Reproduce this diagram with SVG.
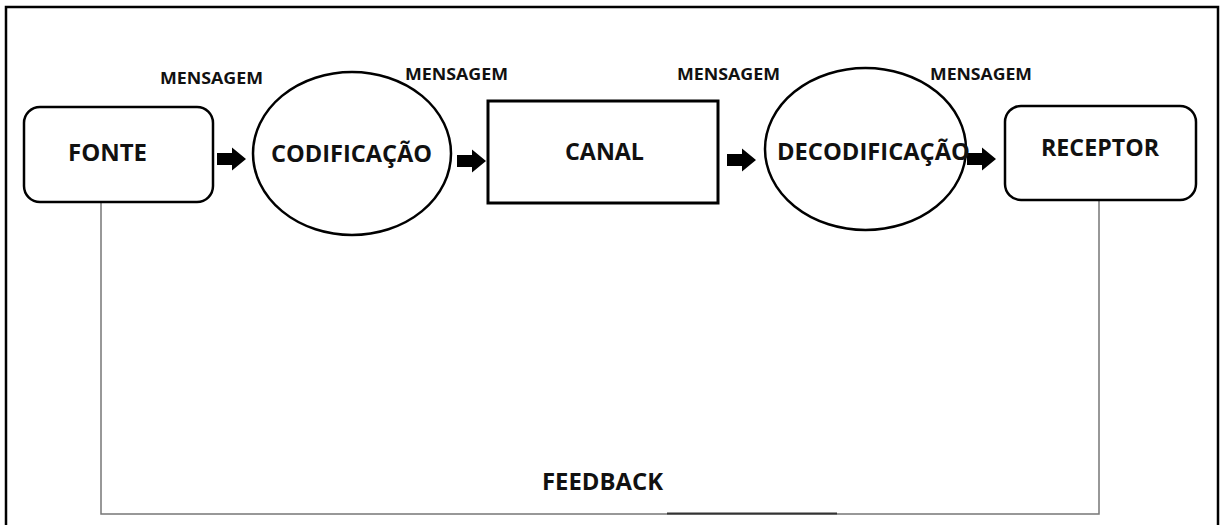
<svg xmlns="http://www.w3.org/2000/svg" width="1220" height="525" viewBox="0 0 1220 525">
<style>
.lbl{font-family:"Open Sans","Liberation Sans",sans-serif;font-weight:700;fill:#111;}
.big{font-size:23px;}
.msg{font-size:16px;}
.shape{fill:#fff;stroke:#000;stroke-width:2.5;}
.fb{fill:none;stroke:#777;stroke-width:1.5;}
</style>
<defs>
<path id="arr" d="M0,-6 H15 V-11.5 L29,0 L15,11.5 V6 H0 Z" fill="#000"/>
</defs>
<rect width="1220" height="525" fill="#fff"/>
<rect x="6" y="7" width="1212" height="540" fill="none" stroke="#000" stroke-width="2.5"/>
<g id="connectors">
<path class="fb" d="M101,202 V514 H1099 V200"/>
<line x1="667" y1="513.5" x2="837" y2="513.5" stroke="#333" stroke-width="2"/>
<use href="#arr" x="217" y="159"/>
<use href="#arr" x="457" y="161"/>
<use href="#arr" x="727" y="160"/>
<use href="#arr" x="967" y="159"/>
<text class="lbl msg" x="160" y="83.5" textLength="103" lengthAdjust="spacingAndGlyphs">MENSAGEM</text>
<text class="lbl msg" x="405" y="79.5" textLength="103" lengthAdjust="spacingAndGlyphs">MENSAGEM</text>
<text class="lbl msg" x="677" y="79.5" textLength="103" lengthAdjust="spacingAndGlyphs">MENSAGEM</text>
<text class="lbl msg" x="930" y="79.5" textLength="102" lengthAdjust="spacingAndGlyphs">MENSAGEM</text>
<text class="lbl big" x="542" y="490" textLength="121" lengthAdjust="spacingAndGlyphs">FEEDBACK</text>
</g>
<g id="fonte">
<rect class="shape" x="24" y="107" width="189" height="95" rx="16"/>
<text class="lbl big" x="68" y="160.5" textLength="79" lengthAdjust="spacingAndGlyphs">FONTE</text>
</g>
<g id="codificacao">
<ellipse class="shape" cx="352" cy="153.5" rx="99" ry="81.5"/>
<text class="lbl big" x="271" y="161.5" textLength="161" lengthAdjust="spacingAndGlyphs">CODIFICAÇÃO</text>
</g>
<g id="canal">
<rect class="shape" x="488" y="101" width="230" height="102" style="stroke-width:3"/>
<text class="lbl big" x="565" y="159.5" textLength="79" lengthAdjust="spacingAndGlyphs">CANAL</text>
</g>
<g id="decodificacao">
<ellipse class="shape" cx="865.5" cy="149" rx="100.5" ry="81" style="fill:none"/>
<text class="lbl big" x="777" y="160" textLength="193" lengthAdjust="spacingAndGlyphs">DECODIFICAÇÃO</text>
</g>
<g id="receptor">
<rect class="shape" x="1005" y="106" width="191" height="94" rx="16"/>
<text class="lbl big" x="1041" y="155.5" textLength="118" lengthAdjust="spacingAndGlyphs">RECEPTOR</text>
</g>
</svg>
